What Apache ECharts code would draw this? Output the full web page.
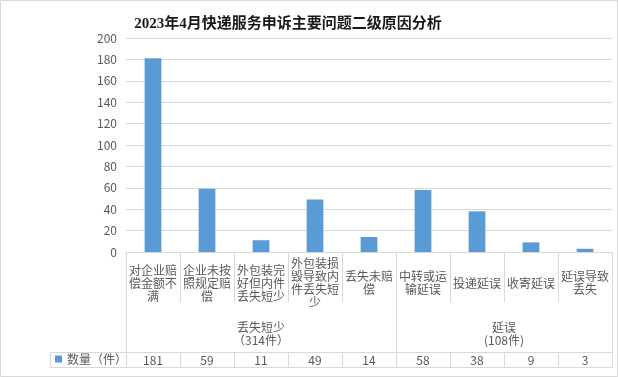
<!DOCTYPE html>
<html>
<head>
<meta charset="utf-8">
<script src="https://cdn.jsdelivr.net/npm/echarts@6/dist/echarts.min.js"></script>
<style>
  html, body { margin: 0; padding: 0; background: #fff; }
  #chart { width: 618px; height: 377px; }
</style>
</head>
<body>
<div id="chart"></div>
<script>
const titleText = '2023年4月快递服务申诉主要问题二级原因分析';
const seriesName = '数量（件）';
const categories = [
  '对企业赔偿金额不满', '企业未按照规定赔偿', '外包装完好但内件丢失短少',
  '外包装损毁导致内件丢失短少', '丢失未赔偿', '中转或运输延误',
  '投递延误', '收寄延误', '延误导致丢失'
];
const counts = [181, 59, 11, 49, 14, 58, 38, 9, 3];
const groupNames = ['丢失短少', '延误'];
const groupNotes = ['（314件）', '(108件)'];
const groupBounds = [0, 5, 9];
const yTicks = [0, 200, 20];

const grid = {left: 126, right: 6, top: 38, bottom: 125};
const labelRow = 50;
const groupRow = 50;
const dataRow = 15;
const lineColor = '#d9d9d9';
const textColor = '#595959';
const font = '"Noto Sans CJK SC", sans-serif';

const chart = echarts.init(document.getElementById('chart'));

function wrap(s) {
  const parts = [];
  for (let i = 0; i < s.length; i += 4) parts.push(s.slice(i, i + 4));
  return parts.join('\n');
}

const groupCenters = groupNames.map((n, i) => (groupBounds[i] + groupBounds[i + 1]) / 2);

const tableTop = 377 - grid.bottom + labelRow + groupRow;

const option = {
  animation: false,
  textStyle: {fontFamily: font},
  title: {
    text: titleText,
    left: 283,
    top: 12,
    textAlign: 'center',
    textStyle: {
      fontFamily: '"Liberation Serif", "Noto Sans CJK SC", serif',
      fontWeight: 'bold',
      fontSize: 15,
      color: '#1a1a1a'
    }
  },
  legend: {
    left: 55,
    top: tableTop + 1,
    padding: 0,
    icon: 'rect',
    itemWidth: 7,
    itemHeight: 7,
    textStyle: {fontSize: 12, color: textColor, fontFamily: font},
    data: [seriesName]
  },
  grid: grid,
  xAxis: [{
    type: 'category',
    data: categories,
    axisLine: {show: true, lineStyle: {color: lineColor}},
    axisTick: {show: true, interval: 0, length: labelRow, lineStyle: {color: lineColor}},
    axisLabel: {
      interval: 0,
      margin: 31,
      verticalAlign: 'middle',
      fontSize: 12,
      lineHeight: 13,
      color: textColor,
      formatter: wrap
    }
  }, {
    type: 'value',
    min: groupBounds[0],
    max: groupBounds[groupBounds.length - 1],
    position: 'bottom',
    offset: labelRow,
    splitLine: {show: false},
    axisLine: {show: false},
    axisTick: {
      show: true,
      customValues: groupBounds,
      length: groupRow,
      lineStyle: {color: lineColor}
    },
    axisLabel: {
      customValues: groupCenters,
      margin: 32,
      verticalAlign: 'middle',
      fontSize: 12,
      lineHeight: 13,
      color: textColor,
      formatter: (v) => {
        const i = groupCenters.indexOf(v);
        return i < 0 ? '' : groupNames[i] + '\n' + groupNotes[i];
      }
    }
  }, {
    type: 'category',
    data: counts.map(String),
    position: 'bottom',
    offset: labelRow + groupRow,
    axisLine: {show: true, lineStyle: {color: lineColor}},
    axisTick: {show: true, interval: 0, length: dataRow, lineStyle: {color: lineColor}},
    axisLabel: {
      interval: 0,
      margin: 8,
      verticalAlign: 'middle',
      fontSize: 12,
      color: textColor
    }
  }],
  yAxis: {
    type: 'value',
    min: yTicks[0],
    max: yTicks[1],
    interval: yTicks[2],
    axisLine: {show: false},
    axisTick: {show: false},
    axisLabel: {margin: 9, fontSize: 12, color: textColor},
    splitLine: {lineStyle: {color: lineColor}}
  },
  graphic: [{
    type: 'rect',
    shape: {x: 0.5, y: 0.5, width: 617, height: 376},
    style: {fill: 'none', stroke: lineColor, lineWidth: 1},
    silent: true
  }, {
    type: 'rect',
    shape: {x: 50.5, y: tableTop + 0.5, width: 618 - grid.right - 50, height: dataRow},
    style: {fill: 'none', stroke: lineColor, lineWidth: 1},
    silent: true
  }],
  series: [{
    type: 'bar',
    name: seriesName,
    xAxisIndex: 0,
    data: counts,
    barWidth: '31%',
    itemStyle: {color: '#5b9bd5'}
  }]
};

chart.setOption(option);
</script>
</body>
</html>
